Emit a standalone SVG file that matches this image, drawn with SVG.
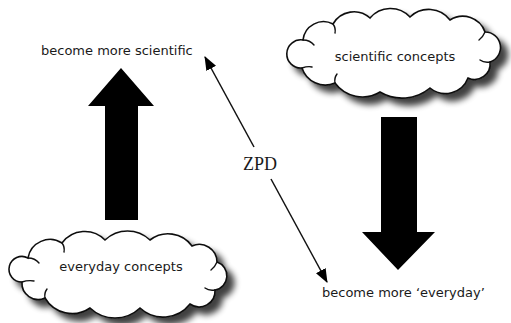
<svg xmlns="http://www.w3.org/2000/svg" width="511" height="323" viewBox="0 0 511 323">
<style>
.lbl{font-family:"DejaVu Sans","Liberation Sans",sans-serif;font-size:13px;fill:#1a1a1a}
.cloud{fill:#fff;stroke:#111;stroke-width:1.6;filter:url(#sh)}
.hook{fill:none;stroke:#111;stroke-width:1.4;stroke-linecap:round}
.thin{stroke:#111;stroke-width:1.5;fill:none;marker-end:url(#ah)}
.big{fill:#000}
.zpd{font-family:"Liberation Serif","DejaVu Serif",serif;font-size:18px;fill:#1a1a1a}
</style>
<defs>
<filter id="sh" x="-20%" y="-30%" width="150%" height="180%">
<feGaussianBlur in="SourceAlpha" stdDeviation="3"/>
<feOffset dx="7" dy="7" result="o"/>
<feComponentTransfer><feFuncA type="linear" slope="0.75"/></feComponentTransfer>
<feMerge><feMergeNode/><feMergeNode in="SourceGraphic"/></feMerge>
</filter>
<marker id="ah" markerUnits="userSpaceOnUse" markerWidth="14" markerHeight="11" refX="13" refY="5.5" orient="auto">
<path d="M0,0 L14,5.5 L0,11 Z" fill="#000"/>
</marker>
</defs>
<rect width="511" height="323" fill="#fff"/>

<g id="scientific-concepts">
<path class="cloud" d="M303,40 A20.6,20.6 0 0 1 333,24 A24,24 0 0 1 370,18 A26.7,26.7 0 0 1 410,17 A26.8,26.8 0 0 1 450,20 A23.5,23.5 0 0 1 485,32 A15.4,15.4 0 0 1 490,62 A15.6,15.6 0 0 1 468,78 A24.2,24.2 0 0 1 430,88 A43.4,43.4 0 0 1 380,92 A33.9,33.9 0 0 1 335,83 A24.5,24.5 0 0 1 302,68 A14.1,14.1 0 1 1 303,40 Z"/>
<path class="hook" d="M303,40 q7,0 11,5"/>
<path class="hook" d="M333,24 q3,4 2,9"/>
<path class="hook" d="M485,32 q-2,5 -6,8"/>
<path class="hook" d="M490,62 q-6,1 -10,-2"/>
<path class="hook" d="M335,83 q-1,-5 2,-9"/>
<path class="hook" d="M302,68 q6,-2 10,-1"/>
<text class="lbl" x="395" y="61" text-anchor="middle">scientific concepts</text>
</g>

<g id="everyday-concepts">
<path class="cloud" d="M28,258 A22.3,22.3 0 0 1 62,243 A28.3,28.3 0 0 1 105,240 A32.6,32.6 0 0 1 150,240 A29.5,29.5 0 0 1 192,246 A17.7,17.7 0 0 1 217,262 A14.5,14.5 0 0 1 215,290 A15.9,15.9 0 0 1 190,304 A34.1,34.1 0 0 1 140,308 A36.3,36.3 0 0 1 90,308 A31.5,31.5 0 0 1 45,298 A16.3,16.3 0 0 1 22,282 A12.8,12.8 0 1 1 28,258 Z"/>
<path class="hook" d="M28,258 q7,0 11,5"/>
<path class="hook" d="M62,243 q3,4 2,9"/>
<path class="hook" d="M217,262 q-2,5 -6,8"/>
<path class="hook" d="M215,290 q-6,1 -10,-2"/>
<path class="hook" d="M45,298 q-1,-5 2,-9"/>
<path class="hook" d="M22,282 q6,-2 12,-1"/>
<text class="lbl" x="121" y="271" text-anchor="middle">everyday concepts</text>
</g>

<g id="become-more-scientific">
<text class="lbl" x="41" y="55">become more scientific</text>
</g>

<g id="become-more-everyday">
<text class="lbl" x="322" y="297">become more ‘everyday’</text>
</g>

<g id="zpd">
<text class="zpd" x="260" y="170" text-anchor="middle">ZPD</text>
</g>

<g id="connectors">
<polygon class="big" points="121,68 154,106 138,106 138,220 105,220 105,106 88,106"/>
<polygon class="big" points="381,117 417,117 417,232 435,232 398,270 362,232 381,232"/>
<line class="thin" x1="254" y1="147" x2="205" y2="57"/>
<line class="thin" x1="271" y1="179" x2="327" y2="282"/>
</g>
</svg>
